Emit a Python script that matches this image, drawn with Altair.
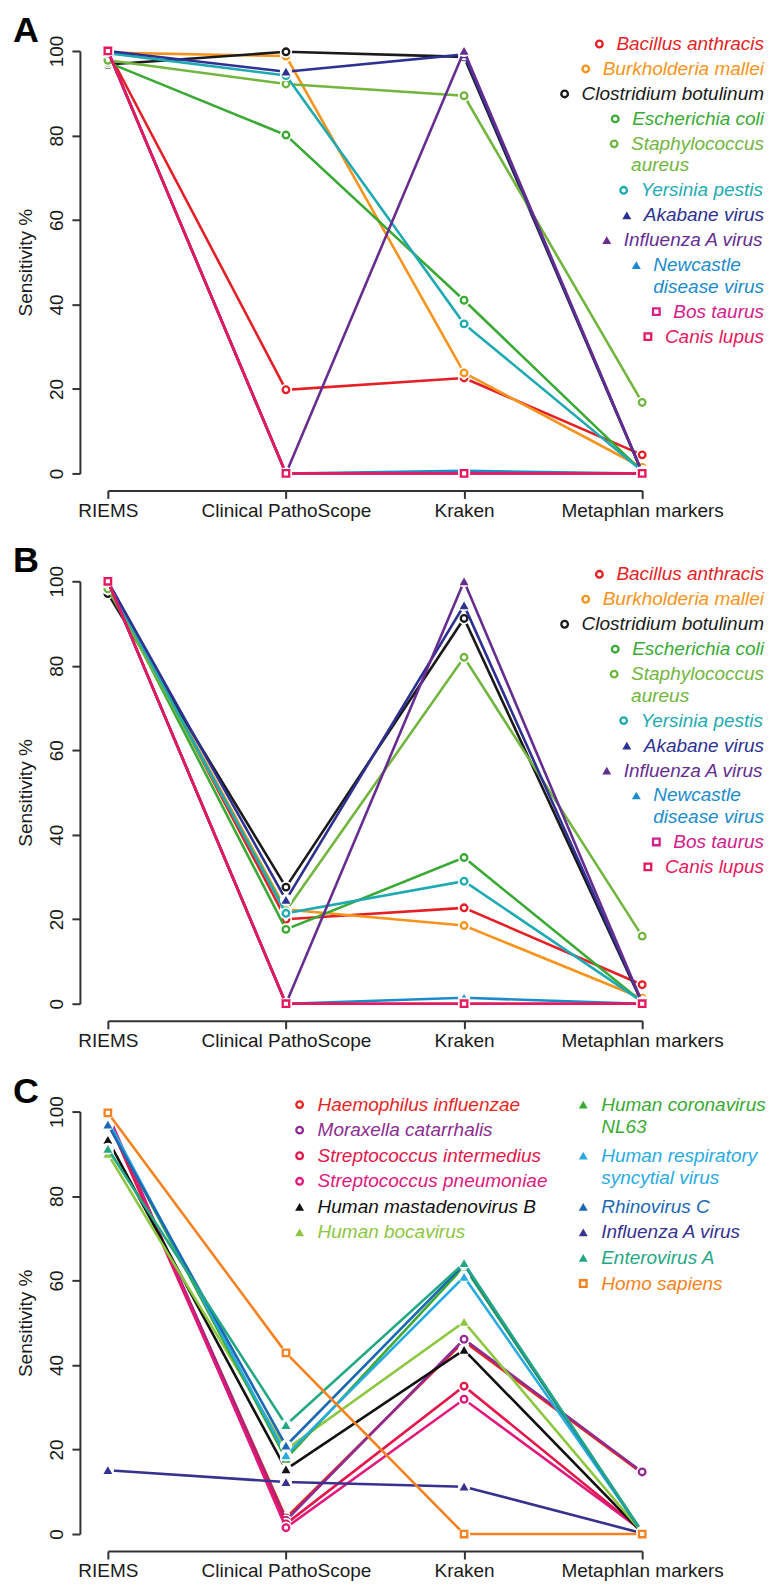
import altair as alt
import pandas as pd

methods = ["RIEMS", "Clinical PathoScope", "Kraken", "Metaphlan markers"]

# ---------- panels A and B ----------
ab_species = ["Bacillus anthracis", "Burkholderia mallei", "Clostridium botulinum",
              "Escherichia coli", "Staphylococcus aureus", "Yersinia pestis",
              "Akabane virus", "Influenza A virus", "Newcastle disease virus",
              "Bos taurus", "Canis lupus"]
ab_label_lines = [["Bacillus anthracis"], ["Burkholderia mallei"], ["Clostridium botulinum"],
                  ["Escherichia coli"], ["Staphylococcus", "aureus"], ["Yersinia pestis"],
                  ["Akabane virus"], ["Influenza A virus"], ["Newcastle", "disease virus"],
                  ["Bos taurus"], ["Canis lupus"]]
ab_shapes = ["circle"] * 6 + ["triangle-up"] * 3 + ["square"] * 2
ab_colors = ["#E41F26", "#F7941D", "#1A1A1A", "#3AAA35", "#72B53F", "#1FAAB2",
             "#2E3192", "#662D91", "#1C8BCB", "#D3208A", "#E5195B"]

a_riems     = [100.0, 99.6, 96.8, 97.3, 97.8, 99.5, 100.0, 100.0, 100.0, 100.0, 100.0]
a_clinical  = [19.8, 98.8, 99.8, 80.1, 92.2, 94.2, 95.1, 0.0, 0.0, 0.0, 0.0]
a_kraken    = [22.6, 23.8, 98.6, 41.0, 89.4, 35.4, 99.2, 100.0, 0.6, 0.0, 0.0]
a_metaphlan = [4.4, 1.4, 0.2, 0.5, 16.8, 0.6, 0.2, 0.3, 0.0, 0.0, 0.0]

b_riems     = [100.0, 99.5, 97.1, 99.3, 98.2, 99.6, 100.0, 100.0, 100.0, 100.0, 100.0]
b_clinical  = [20.0, 22.3, 27.6, 17.6, 22.0, 21.4, 24.6, 0.0, 0.0, 0.0, 0.0]
b_kraken    = [22.7, 18.5, 91.2, 34.6, 82.0, 29.0, 94.3, 100.0, 1.4, 0.0, 0.0]
b_metaphlan = [4.5, 1.3, 0.2, 0.4, 16.0, 0.5, 0.3, 0.3, 0.0, 0.0, 0.0]

# ---------- panel C ----------
c_species = ["Haemophilus influenzae", "Moraxella catarrhalis", "Streptococcus intermedius",
             "Streptococcus pneumoniae", "Human mastadenovirus B", "Human bocavirus",
             "Human coronavirus NL63", "Human respiratory syncytial virus", "Rhinovirus C",
             "Influenza A virus", "Enterovirus A", "Homo sapiens"]
c_label_lines = [["Haemophilus influenzae"], ["Moraxella catarrhalis"],
                 ["Streptococcus intermedius"], ["Streptococcus pneumoniae"],
                 ["Human mastadenovirus B"], ["Human bocavirus"],
                 ["Human coronavirus", "NL63"], ["Human respiratory", "syncytial virus"],
                 ["Rhinovirus C"], ["Influenza A virus"], ["Enterovirus A"], ["Homo sapiens"]]
c_shapes = ["circle"] * 4 + ["triangle-up"] * 7 + ["square"]
c_colors = ["#E8261F", "#8E2C90", "#E3174B", "#E0197D", "#111111", "#8DC63F",
            "#3AAA35", "#29ABE2", "#1C68B3", "#37318F", "#24A884", "#F58220"]
c_column = [0] * 6 + [1] * 6

c_riems     = [98.5, 99.0, 98.0, 99.5, 93.3, 90.0, 97.5, 98.0, 96.9, 15.1, 91.2, 99.7]
c_clinical  = [3.8, 3.2, 2.4, 1.5, 15.3, 20.0, 17.8, 18.6, 20.9, 12.3, 25.8, 42.9]
c_kraken    = [45.6, 46.1, 35.0, 31.9, 43.6, 50.2, 63.3, 60.9, 63.8, 11.2, 64.1, 0.0]
c_metaphlan = [14.4, 14.7, 0.7, 0.8, 0.3, 0.4, 0.4, 0.5, 0.4, 0.2, 0.5, 0.0]

# ---------- layout / style ----------
W, H, GAP = 535, 423, 108
FONT = "Liberation Sans"
FS = 19
AXIS_COL = "#333333"
TXT_COL = "#1a1a1a"
LEG_RIGHT = 657

CHAR_W = {
    'a': 556, 'b': 556, 'c': 500, 'd': 556, 'e': 556, 'f': 278, 'g': 556, 'h': 556,
    'i': 222, 'j': 222, 'k': 500, 'l': 222, 'm': 833, 'n': 556, 'o': 556, 'p': 556,
    'q': 556, 'r': 333, 's': 500, 't': 278, 'u': 556, 'v': 500, 'w': 722, 'x': 500,
    'y': 500, 'z': 500, 'A': 667, 'B': 667, 'C': 722, 'D': 722, 'E': 667, 'F': 611,
    'G': 778, 'H': 722, 'I': 278, 'J': 500, 'K': 667, 'L': 556, 'M': 833, 'N': 722,
    'O': 778, 'P': 667, 'Q': 778, 'R': 722, 'S': 667, 'T': 611, 'U': 722, 'V': 667,
    'W': 944, 'X': 667, 'Y': 667, 'Z': 611, ' ': 278,
}


def text_width(s):
    return sum(CHAR_W.get(ch, 556) for ch in s) / 1000.0 * FS


def xd(px):
    return px / W * 3.0


def yd(py):
    return 100.0 - py / H * 100.0


def legend_right(lines_list, shapes, colors, right=LEG_RIGHT, top=-7, step=25, wrap=21.5, gap=17):
    texts, marks = [], []
    y = top
    for lines, sh, col in zip(lines_list, shapes, colors):
        w = max(text_width(l) for l in lines)
        x0 = right - w
        marks.append(dict(lx=xd(x0 - gap), ly=yd(y), shape=sh, color=col))
        for k, l in enumerate(lines):
            texts.append(dict(lx=xd(x0), ly=yd(y + k * wrap), text=l, color=col))
        y += step + wrap * (len(lines) - 1)
    return texts, marks


def legend_columns(lines_list, shapes, colors, column, text_x=(210, 494), top=-7,
                   row=25.6, wrap=22, gap=18):
    texts, marks = [], []
    counters = [0, 0]
    for lines, sh, col, c in zip(lines_list, shapes, colors, column):
        y = top + counters[c] * row
        x0 = text_x[c]
        marks.append(dict(lx=xd(x0 - gap), ly=yd(y), shape=sh, color=col))
        for k, l in enumerate(lines):
            texts.append(dict(lx=xd(x0), ly=yd(y + k * wrap), text=l, color=col))
        counters[c] += len(lines)
    return texts, marks


label_expr = "[" + ",".join("'" + m + "'" for m in methods) + "][datum.value]"

x_axis = alt.Axis(values=[0, 1, 2, 3], labelExpr=label_expr, title=None, grid=False,
                  domain=True, domainColor=AXIS_COL, domainWidth=2, ticks=True,
                  tickColor=AXIS_COL, tickWidth=2, tickSize=8, offset=17,
                  labelFont=FONT, labelFontSize=FS, labelColor=TXT_COL, labelAngle=0,
                  labelPadding=3, labelFlush=False, labelOverlap=False, labelBound=False)
y_axis = alt.Axis(values=[0, 20, 40, 60, 80, 100], format="d", title="Sensitivity %",
                  grid=False, domain=True, domainColor=AXIS_COL, domainWidth=2,
                  ticks=True, tickColor=AXIS_COL, tickWidth=2, tickSize=8, offset=28,
                  labelFont=FONT, labelFontSize=FS, labelColor=TXT_COL, labelAngle=270,
                  labelAlign="center", labelBaseline="bottom", labelPadding=5,
                  labelFlush=False, labelOverlap=False,
                  titleFont=FONT, titleFontSize=FS, titleFontWeight="normal",
                  titleColor=TXT_COL, titlePadding=12)

x_scale = alt.Scale(domain=[0, 3], nice=False, zero=False)
y_scale = alt.Scale(domain=[0, 100], nice=False, zero=False)


def panel(letter, species, shapes, colors, cols, legend):
    layers = []
    for i, sp in enumerate(species):
        d = pd.DataFrame({"m": list(range(len(methods))),
                          "value": [cols[j][i] for j in range(len(methods))]})
        enc = dict(x=alt.X("m:Q", scale=x_scale, axis=x_axis),
                   y=alt.Y("value:Q", scale=y_scale, axis=y_axis))
        layers.append(alt.Chart(d).mark_line(strokeWidth=2.6, color=colors[i]).encode(**enc))
        layers.append(alt.Chart(d).mark_point(shape="circle", filled=True, color="white",
                                              size=150, opacity=1).encode(**enc))
        if shapes[i] == "triangle-up":
            pt = alt.Chart(d).mark_point(shape="triangle-up", filled=True, color=colors[i],
                                         size=80, opacity=1)
        else:
            pt = alt.Chart(d).mark_point(shape=shapes[i], filled=True, fill="white",
                                         stroke=colors[i], strokeWidth=2.3,
                                         size=44 if shapes[i] == "circle" else 42, opacity=1)
        layers.append(pt.encode(**enc))

    texts, marks = legend
    tdf = pd.DataFrame(texts)
    mdf = pd.DataFrame(marks)
    lenc = dict(x=alt.X("lx:Q", scale=x_scale, axis=x_axis),
                y=alt.Y("ly:Q", scale=y_scale, axis=y_axis))
    layers.append(alt.Chart(tdf).mark_text(align="left", baseline="middle", font=FONT,
                                           fontSize=FS, fontStyle="italic").encode(
        text="text:N", color=alt.Color("color:N", scale=None), **lenc))
    open_m = mdf[mdf["shape"] != "triangle-up"]
    fill_m = mdf[mdf["shape"] == "triangle-up"]
    if len(open_m):
        layers.append(alt.Chart(open_m).mark_point(filled=True, fill="white", strokeWidth=2.3,
                                                   size=44, opacity=1).encode(
            shape=alt.Shape("shape:N", scale=None),
            stroke=alt.Stroke("color:N", scale=None), **lenc))
    if len(fill_m):
        layers.append(alt.Chart(fill_m).mark_point(filled=True, size=80, opacity=1,
                                                   shape="triangle-up").encode(
            fill=alt.Fill("color:N", scale=None), **lenc))
    layers.append(alt.Chart(pd.DataFrame({"t": [letter]})).mark_text(
        align="left", baseline="top", font=FONT, fontSize=36, fontWeight="bold",
        color="#000000").encode(text="t:N", x=alt.value(-95), y=alt.value(-37)))
    return alt.layer(*layers).properties(width=W, height=H)


pA = panel("A", ab_species, ab_shapes, ab_colors,
           [a_riems, a_clinical, a_kraken, a_metaphlan],
           legend_right(ab_label_lines, ab_shapes, ab_colors))
pB = panel("B", ab_species, ab_shapes, ab_colors,
           [b_riems, b_clinical, b_kraken, b_metaphlan],
           legend_right(ab_label_lines, ab_shapes, ab_colors))
pC = panel("C", c_species, c_shapes, c_colors,
           [c_riems, c_clinical, c_kraken, c_metaphlan],
           legend_columns(c_label_lines, c_shapes, c_colors, c_column))

chart = alt.vconcat(pA, pB, pC, spacing=GAP, bounds="flush").configure(
    padding={"left": 5, "top": 4, "right": 0, "bottom": 0}, background="white", font=FONT
).configure_view(stroke=None)

chart.save("out.html", embed_options={"renderer": "svg", "actions": False})
